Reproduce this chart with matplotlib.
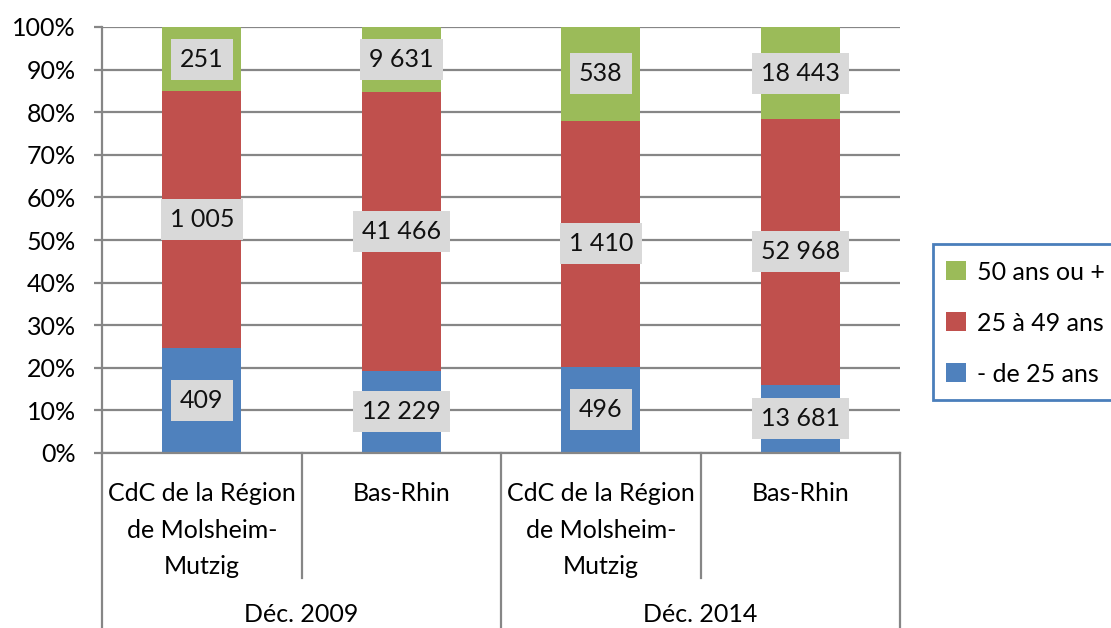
import matplotlib
matplotlib.use("Agg")
import matplotlib.pyplot as plt
from matplotlib.patches import Patch, Rectangle
import numpy as np

plt.rcParams['font.family'] = ['Lato', 'DejaVu Sans']

categories = ["CdC de la Région\nde Molsheim-\nMutzig", "Bas-Rhin",
              "CdC de la Région\nde Molsheim-\nMutzig", "Bas-Rhin"]
groups = ["Déc. 2009", "Déc. 2014"]
series_names = ["- de 25 ans", "25 à 49 ans", "50 ans ou +"]
moins_25 = [409, 12229, 496, 13681]
de_25_49 = [1005, 41466, 1410, 52968]
plus_50 = [251, 9631, 538, 18443]
colors = ["#4F81BD", "#C0504D", "#9BBB59"]

FS = 18
W, H = 1111, 628
fig = plt.figure(figsize=(W / 100, H / 100), dpi=100)
ax_l, ax_r, ax_t, ax_b = 102, 900, 27, 453
ax = fig.add_axes([ax_l / W, 1 - ax_b / H, (ax_r - ax_l) / W, (ax_b - ax_t) / H])

data = np.array([moins_25, de_25_49, plus_50], dtype=float)
totals = data.sum(axis=0)
pct = data / totals * 100
x = np.arange(len(categories))

def fmt(v):
    return f"{int(v):,}".replace(",", " ")

bottom = np.zeros(len(categories))
for i, name in enumerate(series_names):
    ax.bar(x, pct[i], bottom=bottom, width=0.395, color=colors[i], zorder=2, label=name)
    for j in range(len(categories)):
        ax.text(x[j], bottom[j] + pct[i][j] / 2, fmt(data[i][j]), ha='center', va='center',
                fontsize=FS, color='#111111', zorder=4,
                bbox=dict(boxstyle='square,pad=0.36', facecolor='#D9D9D9', edgecolor='none'))
    bottom += pct[i]

ax.set_xlim(-0.5, len(categories) - 0.5)
ax.set_ylim(0, 100)
ax.set_yticks(np.arange(0, 101, 10))
ax.set_yticklabels([f"{v}%" for v in range(0, 101, 10)], fontsize=FS)
ax.yaxis.grid(True, color='#868686', linewidth=1.6, zorder=0)
ax.set_axisbelow(True)
ax.tick_params(axis='y', length=6, width=1.6, color='#868686', pad=13)
ax.set_xticks([])
for s in ['top', 'right']:
    ax.spines[s].set_visible(False)
for s in ['left', 'bottom']:
    ax.spines[s].set_color('#868686')
    ax.spines[s].set_linewidth(1.6)

trans = ax.get_xaxis_transform()
ah = ax_b - ax_t
inner_bot = -(578 - ax_b) / ah
outer_bot = -(H - ax_b) / ah
for k, xs in enumerate(np.arange(-0.5, len(categories), 1.0)):
    yb = outer_bot if k % 2 == 0 else inner_bot
    ax.plot([xs, xs], [0, yb], transform=trans, color='#868686', linewidth=1.6,
            clip_on=False, zorder=1)

for j, c in enumerate(categories):
    ax.text(x[j], -(482 - ax_b) / ah, c, transform=trans, ha='center', va='top',
            fontsize=FS, linespacing=1.72)
for g, name in enumerate(groups):
    ax.text(2 * g + 0.5, -(622 - ax_b) / ah, name, transform=trans, ha='center',
            va='baseline', fontsize=FS)

# legend frame (extends past the right edge as in the reference)
fig.patches.append(Rectangle((933 / W, 1 - 400 / H), 200 / W, 156 / H,
                             transform=fig.transFigure, facecolor='white',
                             edgecolor='#4A7EBB', linewidth=2, zorder=0))
handles = [Patch(facecolor=colors[i], edgecolor='none') for i in [2, 1, 0]]
labels = [series_names[i] for i in [2, 1, 0]]
leg = fig.legend(handles, labels, loc='center left', bbox_to_anchor=(946 / W, 1 - 323 / H),
                 borderaxespad=0, borderpad=0, fontsize=FS, frameon=False,
                 handlelength=0.8, handleheight=0.8, handletextpad=0.45,
                 labelspacing=1.12)

fig.savefig("out.png", dpi=100)
